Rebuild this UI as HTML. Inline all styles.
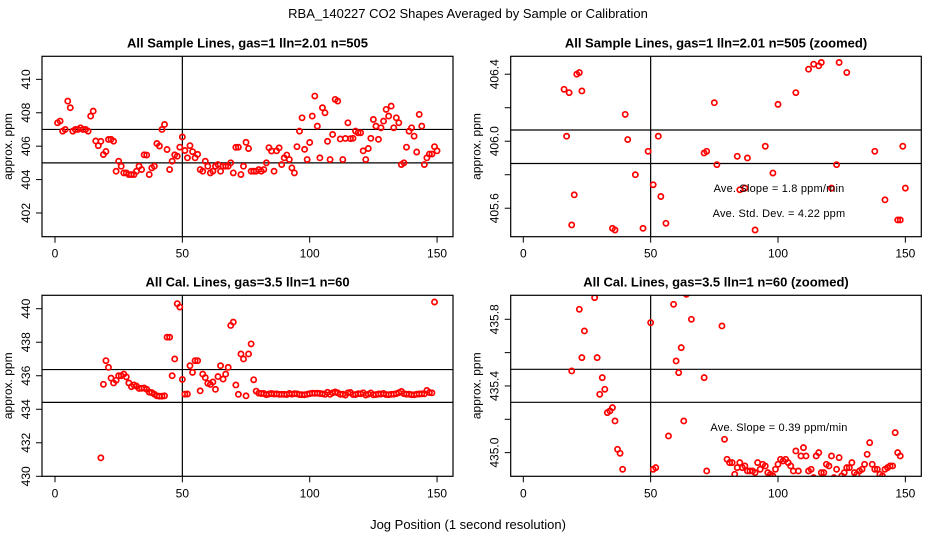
<!DOCTYPE html>
<html><head><meta charset="utf-8"><style>
html,body{margin:0;padding:0;background:#fff;width:936px;height:540px;overflow:hidden;}
svg{display:block;font-family:"Liberation Sans",sans-serif;}
</style></head><body>
<svg id="chart" width="936" height="540" viewBox="0 0 936 540" xmlns="http://www.w3.org/2000/svg">
<rect width="936" height="540" fill="#fff"/>
<text x="468" y="18" text-anchor="middle" font-size="13">RBA_140227  CO2 Shapes Averaged by Sample or Calibration</text>
<text x="468" y="529" text-anchor="middle" font-size="13">Jog Position (1 second resolution)</text>
</svg>
<script>
// Sample data (x = 1..150)
const sampleStart = 1;
const sampleY = [407.4,407.5,406.9,407.0,408.7,408.3,406.9,407.0,407.0,407.1,407.0,407.0,406.9,407.8,408.1,406.31,406.03,406.29,405.50,405.68,406.40,406.41,406.30,404.5,405.1,404.8,404.4,404.4,404.3,404.3,404.3,404.5,404.8,404.6,405.48,405.47,404.3,404.7,404.8,406.16,406.01,407.0,407.3,405.80,404.6,405.1,405.48,405.4,405.94,406.55,405.74,405.3,406.03,405.67,405.3,405.51,404.6,404.5,405.1,404.8,404.4,404.5,404.8,404.9,404.5,404.8,404.8,404.8,405.0,404.4,405.93,405.94,404.3,404.8,406.23,405.86,404.5,404.5,404.5,404.6,404.5,404.6,405.0,405.91,405.71,404.5,405.72,405.90,404.9,405.3,405.47,405.2,404.7,404.4,405.97,406.9,407.7,405.81,405.2,406.22,407.8,409.0,407.2,405.3,408.3,408.0,406.29,405.2,406.7,408.8,408.7,406.43,405.2,406.46,407.4,406.45,406.47,406.9,406.8,406.8,405.72,405.2,405.86,406.47,407.6,407.2,406.41,407.1,407.5,408.2,407.8,408.4,407.1,407.7,407.4,404.9,405.0,405.94,406.9,407.1,406.6,405.65,407.9,407.2,404.9,405.3,405.53,405.53,405.97,405.72];
// Calibration data (x = 18..149)
const calStart = 18;
const calY = [431.1,435.49,436.9,436.5,435.86,435.57,435.73,436.0,436.0,436.1,435.93,435.57,435.35,435.45,435.38,435.24,435.25,435.27,435.19,435.02,434.996,434.90,434.8,434.78,434.78,434.8,438.3,438.3,436.0,437.0,440.3,440.1,435.78,434.90,434.91,436.6,436.2,436.9,436.9,435.10,436.1,435.89,435.55,435.48,435.63,435.19,435.95,436.6,435.80,436.1,436.5,439.0,439.2,435.45,434.89,437.3,437.0,434.8,437.3,437.9,435.76,435.08,434.96,434.94,434.94,434.87,434.91,434.94,434.91,434.92,434.89,434.89,434.89,434.88,434.94,434.90,434.93,434.92,434.88,434.87,434.86,434.90,434.93,434.96,434.95,434.96,434.94,434.92,434.89,435.01,434.89,434.98,435.03,434.98,434.89,434.90,434.85,434.98,435.00,434.88,434.88,434.93,434.92,434.98,434.85,434.90,434.97,434.86,434.88,434.91,434.91,434.94,434.88,434.87,434.89,434.90,434.93,434.99,435.06,434.93,434.90,434.90,434.87,434.86,434.90,434.91,434.92,434.92,435.12,435.00,434.98,440.4];
const xTicks = [0,50,100,150];
const yTicksTL = [402,404,406,408,410];
const yLabelsTL = ["402","404","406","408","410"];
const yTicksTR = [405.6,405.8,406.0,406.2,406.4];
const yLabelsTR = ["405.6","","406.0","","406.4"];
const yTicksBL = [430,432,434,436,438,440];
const yLabelsBL = ["430","432","434","436","438","440"];
const yTicksBR = [435.0,435.2,435.4,435.6,435.8];
const yLabelsBR = ["435.0","","435.4","","435.8"];
const hLinesTL = [407.0,405.0];
const hLinesTR = [406.067,405.867];
const hLinesBL = [436.37,434.41];
const hLinesBR = [435.5,435.302];
const vLineX = 50;

const NS = "http://www.w3.org/2000/svg";
const svg = document.getElementById('chart');
function mk(tag, attrs, parent){
  const e = document.createElementNS(NS, tag);
  for (const k in attrs) e.setAttribute(k, attrs[k]);
  (parent||svg).appendChild(e);
  return e;
}
const panels = [
  {id:'tl', L:42, R:453, T:56.3, B:236.7, ymin:400.58, ymax:411.38, x0:55, title:'All Sample Lines, gas=1 lln=2.01 n=505', start:sampleStart, vals:sampleY, yt:yTicksTL, yl:yLabelsTL, hl:hLinesTL, notes:[]},
  {id:'tr', L:510.7, R:921.3, T:56.3, B:236.7, ymin:405.43, ymax:406.507, x0:523.3, title:'All Sample Lines, gas=1 lln=2.01 n=505 (zoomed)', start:sampleStart, vals:sampleY, yt:yTicksTR, yl:yLabelsTR, hl:hLinesTR, notes:[['Ave. Slope =  1.8  ppm/min',192],['Ave. Std. Dev. =  4.22  ppm',217]]},
  {id:'bl', L:42, R:453, T:295.3, B:476.3, ymin:430, ymax:440.8, x0:55, title:'All Cal. Lines, gas=3.5 lln=1 n=60', start:calStart, vals:calY, yt:yTicksBL, yl:yLabelsBL, hl:hLinesBL, notes:[]},
  {id:'br', L:510.7, R:921.3, T:295.3, B:476.3, ymin:434.858, ymax:435.944, x0:523.3, title:'All Cal. Lines, gas=3.5 lln=1 n=60 (zoomed)', start:calStart, vals:calY, yt:yTicksBR, yl:yLabelsBR, hl:hLinesBR, notes:[['Ave. Slope =  0.39  ppm/min',431]]}
];
const xs = 2.547;
panels.forEach(p=>{
  const g = mk('g', {});
  
  
  const X = v => p.x0 + v*xs;
  const Y = v => p.B - (v - p.ymin)/(p.ymax - p.ymin)*(p.B - p.T);
  const defs = mk('defs', {}, g);
  const cp = mk('clipPath', {id:'clip-'+p.id}, defs);
  mk('rect', {x:p.L, y:p.T, width:p.R-p.L, height:p.B-p.T}, cp);
  const t = mk('text', {x:(p.L+p.R)/2, y:p.T-9, 'text-anchor':'middle', 'font-size':'13', 'font-weight':'bold'}, g);
  t.textContent = p.title;
  
  
  const yt = mk('text', {transform:`translate(12,${(p.T+p.B)/2}) rotate(-90)`, 'text-anchor':'middle', 'font-size':'12'}, g);
  yt.textContent = 'approx. ppm';
  
  
  if (p.L > 400) yt.setAttribute('transform', `translate(${p.L-30},${(p.T+p.B)/2}) rotate(-90)`);
  const plot = mk('g', {'clip-path':`url(#clip-${p.id})`}, g);
  p.hl.forEach(v=>{
    const l = mk('line', {x1:p.L, x2:p.R, y1:Y(v), y2:Y(v), stroke:'#000', 'stroke-width':'1.2'}, plot);
    
    
  });
  const vl = mk('line', {x1:X(vLineX), x2:X(vLineX), y1:p.T, y2:p.B, stroke:'#000', 'stroke-width':'1.2'}, plot);
  
  
  p.vals.forEach((v,i)=>{
    const c = mk('circle', {cx:X(p.start+i), cy:Y(v), r:2.6, fill:'none', stroke:'#f00', 'stroke-width':'1.7'}, plot);
    
    
  });
  const box = mk('rect', {x:p.L, y:p.T, width:p.R-p.L, height:p.B-p.T, fill:'none', stroke:'#000', 'stroke-width':'1.2'}, g);
  
  
  xTicks.forEach(v=>{
    mk('line', {x1:X(v), x2:X(v), y1:p.B, y2:p.B+6, stroke:'#000', 'stroke-width':'1'}, g);
    const tl = mk('text', {x:X(v), y:p.B+21, 'text-anchor':'middle', 'font-size':'12'}, g);
    tl.textContent = String(v);
    
    
  });
  p.yt.forEach((v,i)=>{
    mk('line', {x1:p.L-6, x2:p.L, y1:Y(v), y2:Y(v), stroke:'#000', 'stroke-width':'1'}, g);
    if (p.yl[i]) {
      const tl = mk('text', {transform:`translate(${p.L-12},${Y(v)}) rotate(-90)`, 'text-anchor':'middle', 'font-size':'12'}, g);
      tl.textContent = p.yl[i];
      
      
    }
  });
  p.notes.forEach(n=>{
    const tx = mk('text', {x:779, y:n[1], 'text-anchor':'middle', 'font-size':'11', 'letter-spacing':'0.2'}, g);
    tx.textContent = n[0];
    
    
  });
});
</script>
</body></html>
